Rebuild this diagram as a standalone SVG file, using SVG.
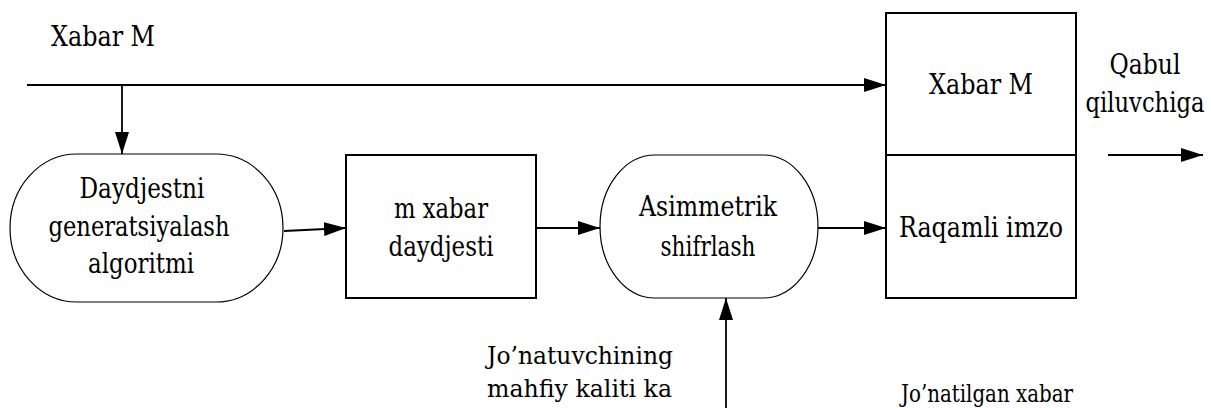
<svg xmlns="http://www.w3.org/2000/svg" width="1211" height="408" viewBox="0 0 1211 408">
<style>
.n{font-size:27px;text-anchor:middle;}
.l{font-size:24px;}
.box{fill:#fff;stroke:#000;stroke-width:2;}
.stad{fill:#fff;stroke:#000;stroke-width:1.2;}
.c{fill:none;stroke:#000;stroke-width:1.8;marker-end:url(#ah);}
</style>
<defs>
<marker id="ah" markerUnits="userSpaceOnUse" markerWidth="23" markerHeight="14" refX="22" refY="7" orient="auto">
<path d="M0,0 L22,7 L0,14 z" fill="#000"/>
</marker>
</defs>
<g font-family="DejaVu Serif, Liberation Serif, serif" fill="#000">
<text x="51" y="46" font-size="27" textLength="104" lengthAdjust="spacingAndGlyphs">Xabar M</text>
<g id="digest-algorithm">
<rect class="stad" x="10" y="154" width="273" height="148" rx="67" ry="74"/>
<text class="n" x="142" y="198" textLength="125" lengthAdjust="spacingAndGlyphs">Daydjestni</text>
<text class="n" x="139" y="236" textLength="181" lengthAdjust="spacingAndGlyphs">generatsiyalash</text>
<text class="n" x="141" y="273" textLength="106" lengthAdjust="spacingAndGlyphs">algoritmi</text>
</g>
<g id="message-digest">
<rect class="box" x="346" y="155" width="190" height="143"/>
<text class="n" x="441" y="218" textLength="94" lengthAdjust="spacingAndGlyphs">m xabar</text>
<text class="n" x="441" y="256" textLength="105" lengthAdjust="spacingAndGlyphs">daydjesti</text>
</g>
<g id="asymmetric-encryption">
<rect class="stad" x="600" y="155" width="218" height="143" rx="55" ry="71.5"/>
<text class="n" x="708" y="216" textLength="138" lengthAdjust="spacingAndGlyphs">Asimmetrik</text>
<text class="n" x="708" y="256" textLength="95" lengthAdjust="spacingAndGlyphs">shifrlash</text>
</g>
<g id="sent-message">
<rect class="box" x="886" y="13" width="190" height="285"/>
<line x1="886" y1="155" x2="1076" y2="155" stroke="#000" stroke-width="2"/>
<text class="n" x="981" y="94" textLength="104" lengthAdjust="spacingAndGlyphs">Xabar M</text>
<text class="n" x="981" y="237" textLength="164" lengthAdjust="spacingAndGlyphs">Raqamli imzo</text>
</g>
<g id="labels">
<text class="n" x="1145" y="74" textLength="71" lengthAdjust="spacingAndGlyphs">Qabul</text>
<text class="n" x="1145" y="112" textLength="119" lengthAdjust="spacingAndGlyphs">qiluvchiga</text>
<text class="l" x="487" y="364" textLength="186" lengthAdjust="spacingAndGlyphs">Jo’natuvchining</text>
<text class="l" x="487" y="397" textLength="185" lengthAdjust="spacingAndGlyphs">mahfiy kaliti ka</text>
<text class="l" x="901" y="402" textLength="172" lengthAdjust="spacingAndGlyphs">Jo’natilgan xabar</text>
</g>
</g>
<g id="connectors">
<line class="c" x1="27" y1="85" x2="886" y2="85"/>
<line class="c" x1="122" y1="85" x2="122" y2="154"/>
<line class="c" x1="284" y1="231" x2="346" y2="228"/>
<line class="c" x1="536" y1="228" x2="600" y2="228"/>
<line class="c" x1="818" y1="228" x2="886" y2="228"/>
<line class="c" x1="726" y1="408" x2="726" y2="298"/>
<line class="c" x1="1108" y1="155" x2="1203" y2="155"/>
</g>
</svg>
